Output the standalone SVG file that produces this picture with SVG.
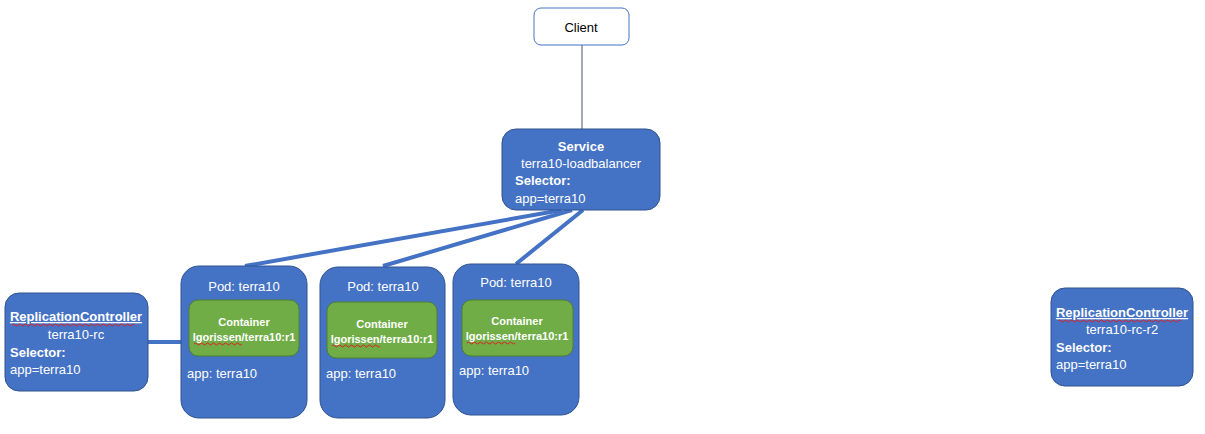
<svg xmlns="http://www.w3.org/2000/svg" width="1205" height="434" viewBox="0 0 1205 434">
<style>
.box{fill:#4472C4;stroke:#2F528F;stroke-width:1}
.cont{fill:#70AD47;stroke:#507E32;stroke-width:1}
.client{fill:#fff;stroke:#4472C4;stroke-width:1}
text{font-family:"Liberation Sans",Arial,sans-serif;font-size:13px;fill:#fff}
.c{text-anchor:middle}
.b{font-weight:bold}
.s{font-size:11px}
.dark{fill:#000}
.conn{stroke:#4472C4;stroke-width:4;fill:none}
.thin{stroke:#44546A;stroke-width:1;fill:none}
.sq{stroke:#E02020;stroke-width:1;fill:none}
</style>
<rect width="1205" height="434" fill="#fff"/>
<g id="connectors">
<line class="thin" x1="582" y1="45" x2="582" y2="129"/>
<line class="conn" x1="562" y1="210" x2="245" y2="266"/>
<line class="conn" x1="572" y1="210" x2="383" y2="266"/>
<line class="conn" x1="583" y1="210" x2="516" y2="264"/>
<line class="conn" x1="148" y1="342" x2="181" y2="342"/>
</g>
<g id="client">
<rect class="client" x="534" y="8" width="95" height="37" rx="7"/>
<text class="c dark" x="581" y="32">Client</text>
</g>
<g id="service">
<rect class="box" x="502" y="129" width="158" height="81" rx="14"/>
<text class="c b" x="581" y="151">Service</text>
<text class="c" x="581" y="168">terra10-loadbalancer</text>
<text class="b" x="515" y="185">Selector:</text>
<text x="515" y="203">app=terra10</text>
</g>
<g id="pod1">
<rect class="box" x="181" y="266" width="126" height="152" rx="18"/>
<text class="c" x="244" y="291">Pod: terra10</text>
<rect class="cont" x="189" y="300" width="110" height="56" rx="9"/>
<text class="c b s" x="244" y="326">Container</text>
<text class="c b s" x="244" y="341">lgorissen/terra10:r1</text>
<path class="sq" d="M194 344q1.5 -2 3 0t3 0t3 0t3 0t3 0t3 0t3 0t3 0t3 0t3 0t3 0t3 0t3 0t3 0t3 0t3 0"/>
<text x="187" y="378">app: terra10</text>
</g>
<g id="pod2">
<rect class="box" x="320" y="267" width="125" height="151" rx="18"/>
<text class="c" x="383" y="291">Pod: terra10</text>
<rect class="cont" x="327" y="302" width="110" height="56" rx="9"/>
<text class="c b s" x="382" y="328">Container</text>
<text class="c b s" x="382" y="343">lgorissen/terra10:r1</text>
<path class="sq" d="M332 346q1.5 -2 3 0t3 0t3 0t3 0t3 0t3 0t3 0t3 0t3 0t3 0t3 0t3 0t3 0t3 0t3 0t3 0"/>
<text x="326" y="378">app: terra10</text>
</g>
<g id="pod3">
<rect class="box" x="453" y="264" width="126" height="151" rx="18"/>
<text class="c" x="516" y="287">Pod: terra10</text>
<rect class="cont" x="462" y="300" width="111" height="56" rx="9"/>
<text class="c b s" x="517" y="325">Container</text>
<text class="c b s" x="517" y="340">lgorissen/terra10:r1</text>
<path class="sq" d="M467 343q1.5 -2 3 0t3 0t3 0t3 0t3 0t3 0t3 0t3 0t3 0t3 0t3 0t3 0t3 0t3 0t3 0t3 0"/>
<text x="459" y="375">app: terra10</text>
</g>
<g id="rc1">
<rect class="box" x="5" y="293" width="143" height="98" rx="14"/>
<text class="c b" x="76" y="321" text-decoration="underline">ReplicationController</text>
<path class="sq" d="M12 325q1.5 -2 3 0t3 0t3 0t3 0t3 0t3 0t3 0t3 0t3 0t3 0t3 0t3 0t3 0t3 0t3 0t3 0t3 0t3 0t3 0t3 0t3 0t3 0t3 0t3 0t3 0t3 0t3 0t3 0t3 0t3 0t3 0t3 0t3 0t3 0t3 0t3 0t3 0t3 0t3 0t3 0t3 0"/>
<text class="c" x="76" y="339">terra10-rc</text>
<text class="b" x="10" y="357">Selector:</text>
<text x="10" y="374">app=terra10</text>
</g>
<g id="rc2">
<rect class="box" x="1051" y="288" width="142" height="98" rx="14"/>
<text class="c b" x="1122" y="317" text-decoration="underline">ReplicationController</text>
<path class="sq" d="M1058 321q1.5 -2 3 0t3 0t3 0t3 0t3 0t3 0t3 0t3 0t3 0t3 0t3 0t3 0t3 0t3 0t3 0t3 0t3 0t3 0t3 0t3 0t3 0t3 0t3 0t3 0t3 0t3 0t3 0t3 0t3 0t3 0t3 0t3 0t3 0t3 0t3 0t3 0t3 0t3 0t3 0t3 0t3 0"/>
<text class="c" x="1122" y="334">terra10-rc-r2</text>
<text class="b" x="1056" y="352">Selector:</text>
<text x="1056" y="369">app=terra10</text>
</g>
</svg>
